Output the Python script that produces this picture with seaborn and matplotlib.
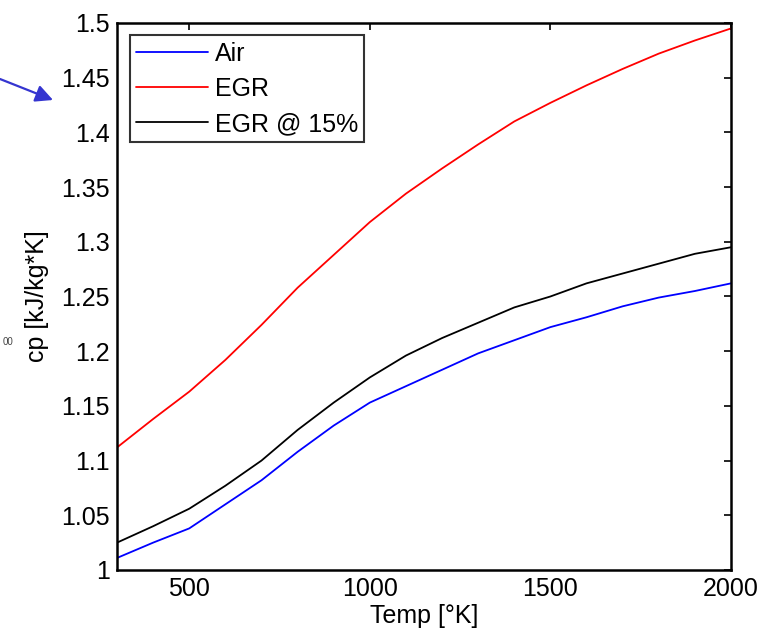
import numpy as np
import pandas as pd
import matplotlib
matplotlib.use("Agg")
import matplotlib.pyplot as plt
import seaborn as sns

# temperature grid [K]
temp = [300, 400, 500, 600, 700, 800, 900, 1000, 1100, 1200,
        1300, 1400, 1500, 1600, 1700, 1800, 1900, 2000]

# cp values [kJ/kg*K]
cp_air = [1.011, 1.025, 1.038, 1.060, 1.082, 1.108, 1.132, 1.153, 1.168, 1.183,
          1.198, 1.210, 1.222, 1.231, 1.241, 1.249, 1.255, 1.262]
cp_egr = [1.112, 1.138, 1.163, 1.192, 1.224, 1.258, 1.288, 1.318, 1.344, 1.367,
          1.389, 1.410, 1.427, 1.443, 1.458, 1.472, 1.484, 1.495]
cp_egr15 = [1.025, 1.040, 1.056, 1.077, 1.100, 1.128, 1.153, 1.176, 1.196, 1.212,
            1.226, 1.240, 1.250, 1.262, 1.271, 1.280, 1.289, 1.295]

series = ["Air", "EGR", "EGR @ 15%"]
colors = ["#0000ff", "#ff0000", "#000000"]

df = pd.concat([
    pd.DataFrame({"Temp": temp, "cp": vals, "gas": name})
    for name, vals in zip(series, [cp_air, cp_egr, cp_egr15])
])

sns.set_theme(style="white")
plt.rcParams["font.family"] = ["Liberation Sans", "DejaVu Sans"]
plt.rcParams["text.color"] = "black"
plt.rcParams["axes.labelcolor"] = "black"

fig = plt.figure(figsize=(7.78, 6.31), dpi=100)
ax = fig.add_axes([0.1504, 0.0967, 0.7892, 0.8669])

sns.lineplot(data=df, x="Temp", y="cp", hue="gas", hue_order=series,
             palette=colors, linewidth=1.3, ax=ax)

ax.set_xlim(300, 2000)
ax.set_ylim(1.0, 1.5)
ax.set_xticks([500, 1000, 1500, 2000])
ax.set_yticks(np.arange(1.0, 1.501, 0.05))
ax.set_yticklabels(["1", "1.05", "1.1", "1.15", "1.2", "1.25", "1.3",
                    "1.35", "1.4", "1.45", "1.5"])
ax.tick_params(direction="in", length=5, width=1.2, labelsize=18,
               top=True, right=True, colors="black", pad=5)
for s in ax.spines.values():
    s.set_linewidth(1.8)
    s.set_color("black")

ax.set_xlabel("Temp [°K]", fontsize=18, labelpad=2)
ax.set_ylabel("cp [kJ/kg*K]", fontsize=18, labelpad=9)

leg = ax.legend(loc="upper left", fontsize=18, frameon=True, fancybox=False,
                handlelength=2.9, handletextpad=0.25, borderpad=0.25,
                labelspacing=0.45, borderaxespad=0.5)
leg.get_frame().set_edgecolor("black")
leg.get_frame().set_linewidth(1.5)
for line in leg.get_lines():
    line.set_linewidth(1.3)

# blue pointer arrow from the slide, outside the axes
fig.patches.append(matplotlib.patches.FancyArrowPatch(
    (0.0, 1 - 79 / 631), (53 / 778, 1 - 100 / 631),
    transform=fig.transFigure, arrowstyle="-|>", mutation_scale=26,
    color="#3535d0", linewidth=1.6, shrinkA=0, shrinkB=0))
fig.text(8 / 778, 1 - 342 / 631, "00", fontsize=7, color="#444444",
         ha="center", va="center")

fig.savefig("out.png", dpi=100)
